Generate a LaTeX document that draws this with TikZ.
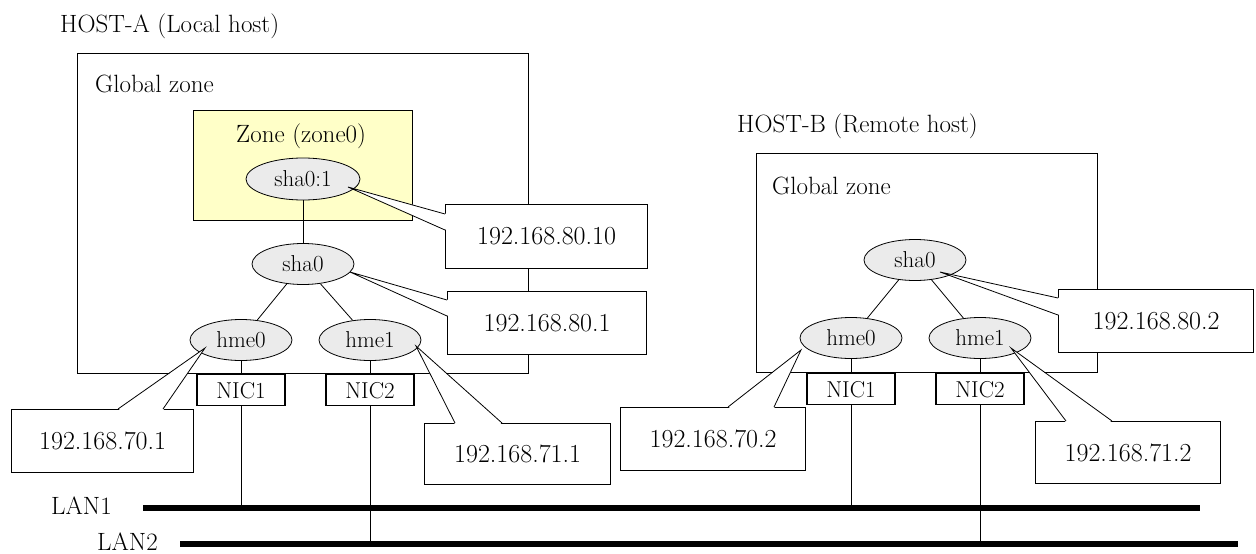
\documentclass[tikz,border=0pt]{standalone}
\usetikzlibrary{shapes.geometric,positioning}
\definecolor{zoneyellow}{RGB}{255,255,200}
\definecolor{ifgray}{RGB}{235,235,235}
\tikzset{
  zonebox/.style={draw, line width=1.2pt, rectangle, inner sep=0pt, anchor=north west},
  ifnode/.style={draw, ellipse, fill=ifgray, line width=0.8pt, minimum width=102pt, minimum height=41pt, inner sep=0pt, font=\fontsize{23}{26}\selectfont},
  nicbox/.style={draw, rectangle, fill=white, line width=1.1pt, minimum width=88pt, minimum height=31pt, inner sep=0pt, anchor=north, font=\fontsize{23}{26}\selectfont},
  ipbox/.style={draw, fill=white, line width=1.2pt, anchor=north west, inner sep=0pt, font=\fontsize{26}{30}\selectfont},
  title/.style={anchor=base west, inner sep=0pt, font=\fontsize{25}{30}\selectfont},
  lan/.style={line width=6pt},
  link/.style={line width=0.8pt}
}
\begin{document}
\begin{tikzpicture}[x=1pt, y=-1pt]
\useasboundingbox (0,0) rectangle (1256,554);
% HOST-A
\node[title] (hostA) at (60,32) {HOST-A (Local host)};
\node[zonebox, minimum width=451pt, minimum height=320pt] (gzA) at (77,53) {};
\node[title] (gzAlabel) at ([shift={(18,39)}]gzA.north west) {Global zone};
\node[zonebox, fill=zoneyellow, minimum width=219pt, minimum height=110pt] (zone0) at (193,110) {};
\node[title, anchor=base] (zone0label) at ([shift={(-2,32)}]zone0.north) {Zone (zone0)};
\node[ifnode, minimum width=114pt, minimum height=42pt] (shaA1) at (303,179) {sha0:1};
\node[ifnode] (shaA) at (303,264) {sha0};
\node[ifnode] (hmeA0) at (241,340) {hme0};
\node[ifnode] (hmeA1) at (370,340) {hme1};
\node[nicbox] (nicA1) at (hmeA0 |- gzA.south) {NIC1};
\node[nicbox] (nicA2) at (hmeA1 |- gzA.south) {NIC2};
\draw[link] (shaA1) -- (shaA);
\draw[link] (shaA) -- (hmeA0);
\draw[link] (shaA) -- (hmeA1);
\draw[link] (hmeA0) -- (nicA1);
\draw[link] (hmeA1) -- (nicA2);
% HOST-B
\node[title] (hostB) at (737,132) {HOST-B (Remote host)};
\node[zonebox, minimum width=341pt, minimum height=219pt] (gzB) at (756,153) {};
\node[title] (gzBlabel) at ([shift={(16,41)}]gzB.north west) {Global zone};
\node[ifnode] (shaB) at (915,260) {sha0};
\node[ifnode] (hmeB0) at (851,338) {hme0};
\node[ifnode] (hmeB1) at (980,338) {hme1};
\node[nicbox] (nicB1) at (hmeB0 |- gzB.south) {NIC1};
\node[nicbox] (nicB2) at (hmeB1 |- gzB.south) {NIC2};
\draw[link] (shaB) -- (hmeB0);
\draw[link] (shaB) -- (hmeB1);
\draw[link] (hmeB0) -- (nicB1);
\draw[link] (hmeB1) -- (nicB2);
% LAN
\node[title] (lan1) at (51,514) {LAN1};
\node[title] (lan2) at (97,550) {LAN2};
\coordinate (lan1w) at (143,508);
\coordinate (lan1e) at (1200,508);
\coordinate (lan2w) at (180,544);
\coordinate (lan2e) at (1238,544);
\draw[lan] (lan1w) -- (lan1e);
\draw[lan] (lan2w) -- (lan2e);
\foreach \nic in {nicA1, nicB1}
  \draw[link] (\nic) -- (\nic |- lan1w);
\foreach \nic in {nicA2, nicB2}
  \draw[link] (\nic) -- (\nic |- lan2w);
% addresses
\node[ipbox, minimum width=202pt, minimum height=64pt] (ipA10) at (445,204) {192.168.80.10};
\node[ipbox, minimum width=199pt, minimum height=63pt] (ipA1) at (447,291) {192.168.80.1};
\node[ipbox, minimum width=182pt, minimum height=63pt] (ipA70) at (11,409) {192.168.70.1};
\node[ipbox, minimum width=186pt, minimum height=61pt] (ipA71) at (424,423) {192.168.71.1};
\node[ipbox, minimum width=195pt, minimum height=63pt] (ipB80) at (1058,289) {192.168.80.2};
\node[ipbox, minimum width=185pt, minimum height=63pt] (ipB70) at (620,407) {192.168.70.2};
\node[ipbox, minimum width=185pt, minimum height=62pt] (ipB71) at (1035,421) {192.168.71.2};
\coordinate (tA10) at ([shift={(45,8)}]shaA1.center);
\coordinate (tA1) at ([shift={(47,8)}]shaA.center);
\coordinate (tA70) at ([shift={(-36,8)}]hmeA0.center);
\coordinate (tA71) at ([shift={(46,6)}]hmeA1.center);
\coordinate (tB80) at ([shift={(25,12)}]shaB.center);
\coordinate (tB70) at ([shift={(-50,12)}]hmeB0.center);
\coordinate (tB71) at ([shift={(31,10)}]hmeB1.center);
\foreach \ipn/\tipn/\pa/\pb in {ipA10/tA10/10/26, ipA1/tA1/9/25, ipB80/tB80/9/26}
{
  \fill[white] ([shift={(1.5,\pa)}]\ipn.north west) -- (\tipn) -- ([shift={(1.5,\pb)}]\ipn.north west) -- cycle;
  \draw[link] ([shift={(0,\pa)}]\ipn.north west) -- (\tipn) -- ([shift={(0,\pb)}]\ipn.north west);
}
\foreach \ipn/\tipn/\pa/\pb in {ipA70/tA70/107/152, ipA71/tA71/31/78, ipB70/tB70/108/154, ipB71/tB71/31/77}
{
  \fill[white] ([shift={(\pa,1.5)}]\ipn.north west) -- (\tipn) -- ([shift={(\pb,1.5)}]\ipn.north west) -- cycle;
  \draw[link] ([shift={(\pa,0)}]\ipn.north west) -- (\tipn) -- ([shift={(\pb,0)}]\ipn.north west);
}
\end{tikzpicture}
\end{document}
